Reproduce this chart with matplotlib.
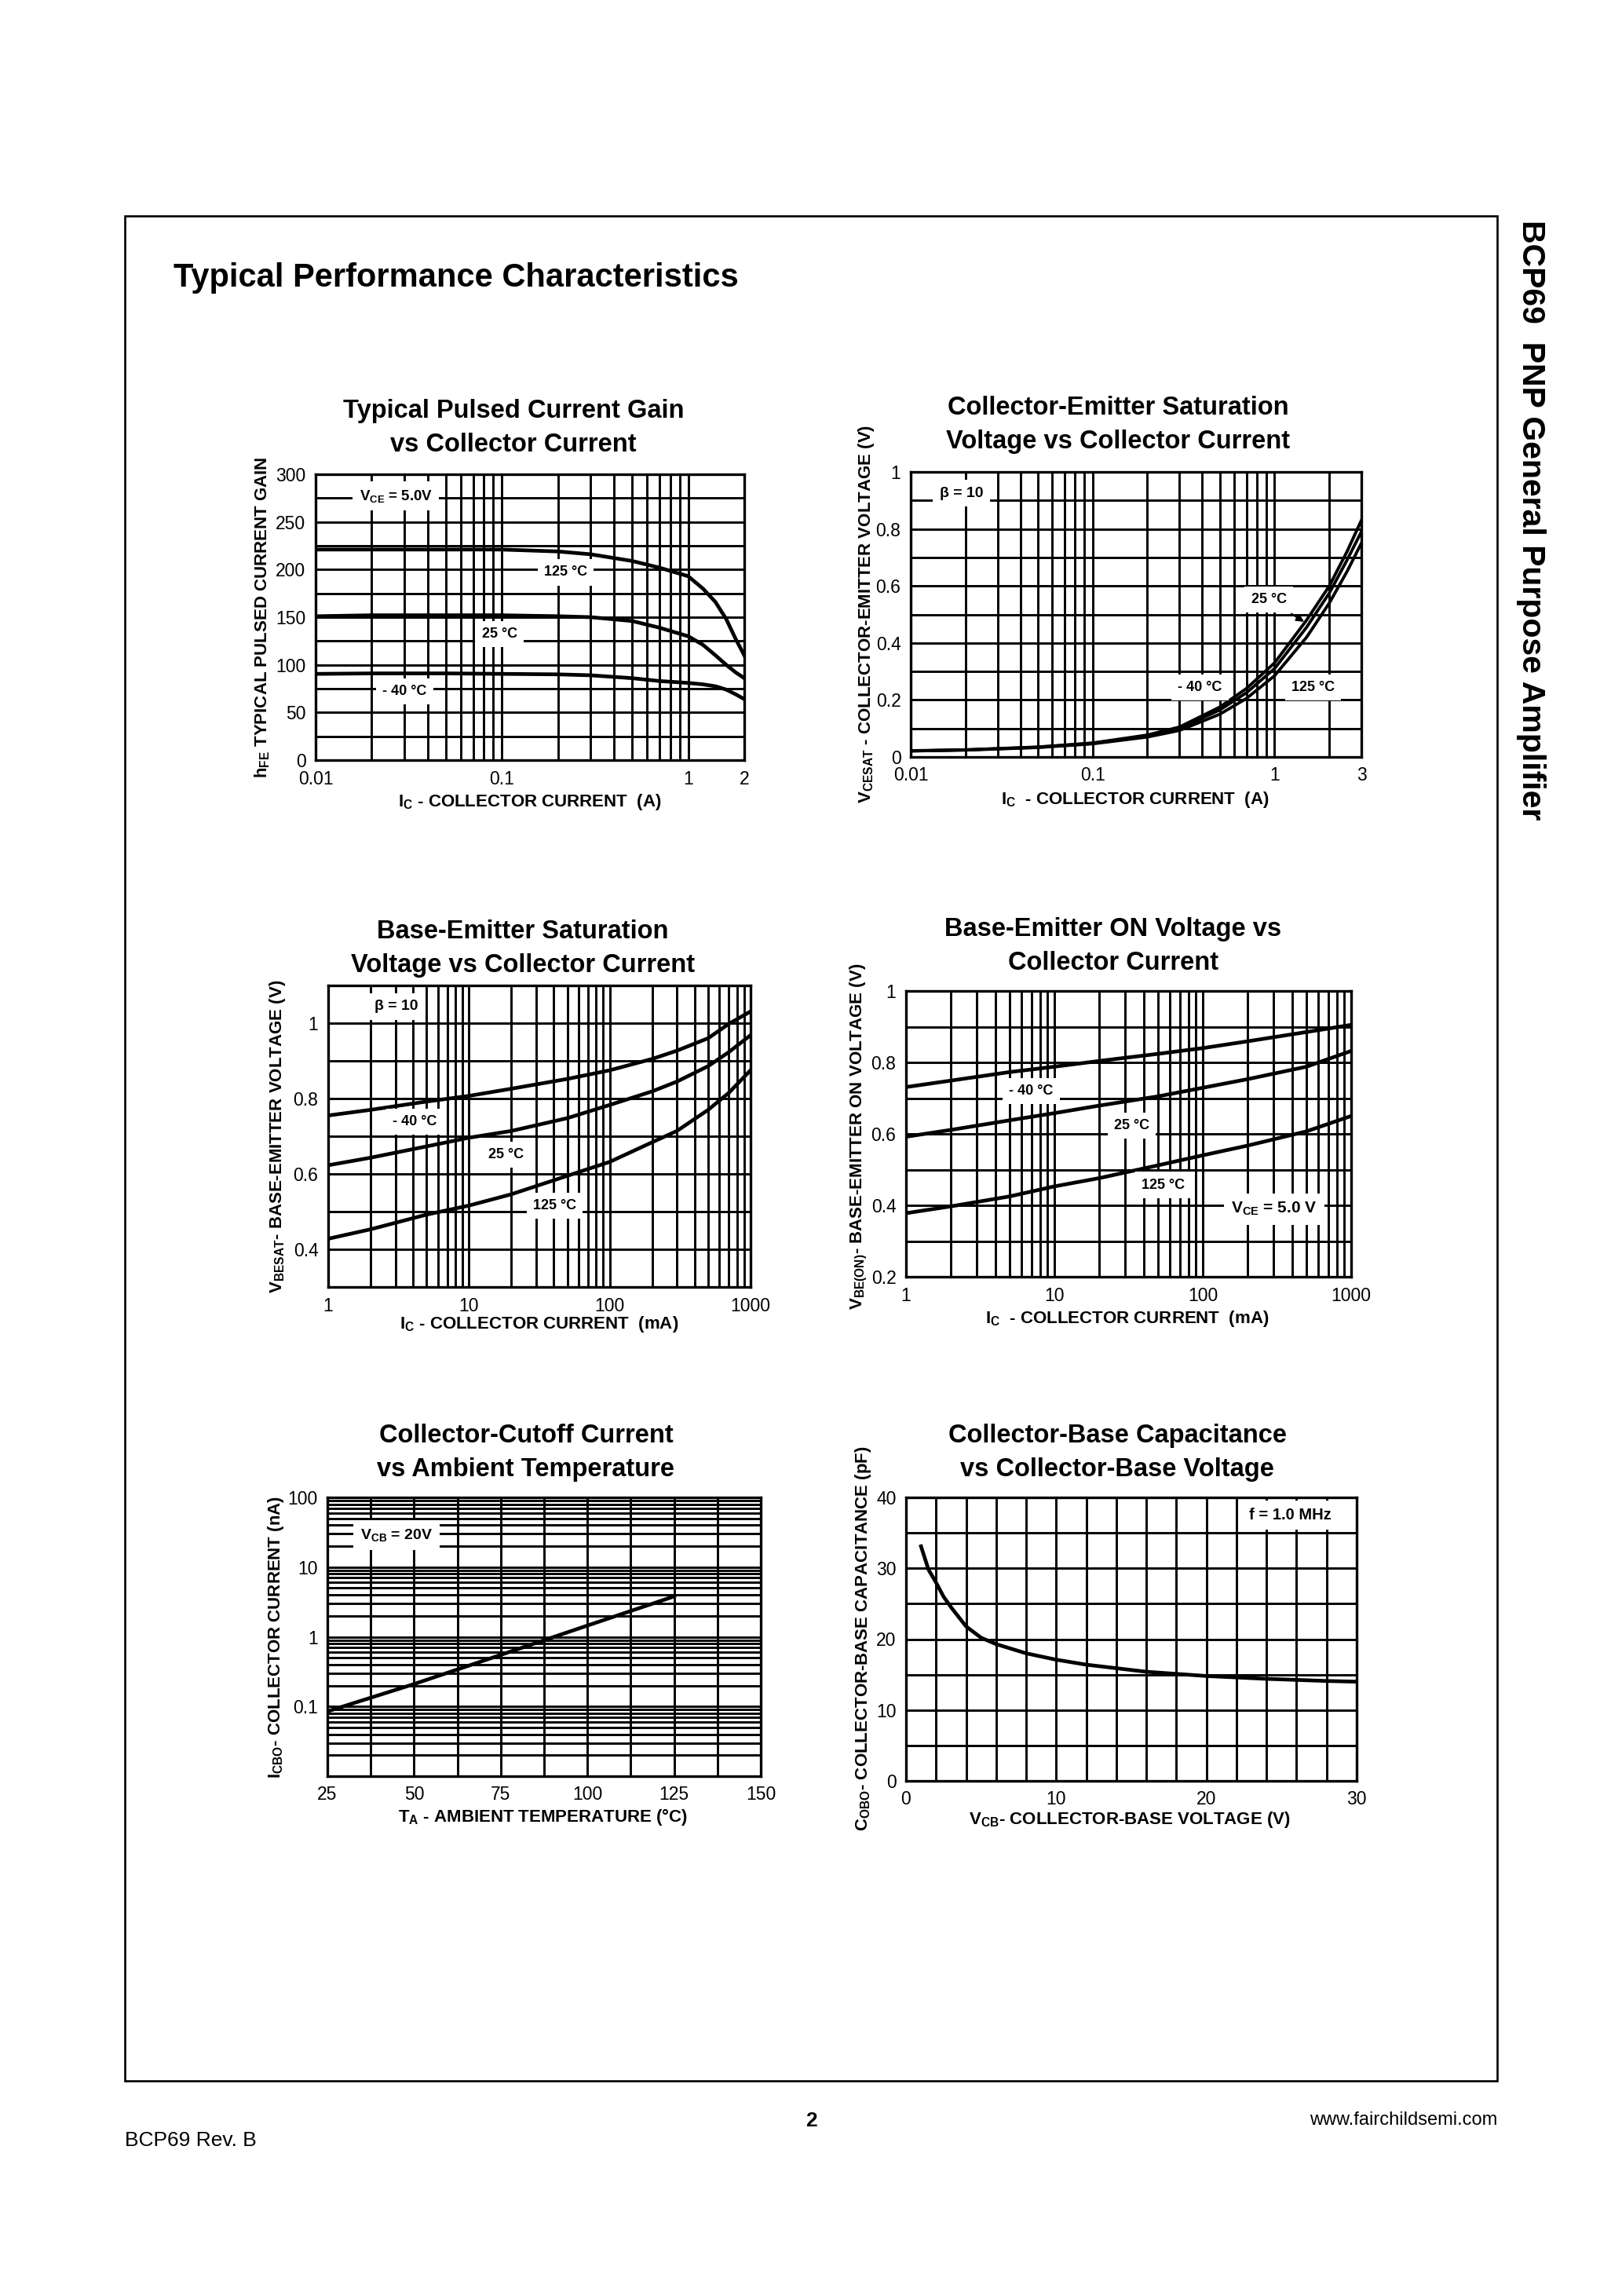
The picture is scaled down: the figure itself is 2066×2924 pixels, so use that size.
import numpy as np
import matplotlib
matplotlib.use("Agg")
import matplotlib.pyplot as plt
from matplotlib.ticker import LogLocator, MultipleLocator, NullFormatter
from matplotlib.patches import Rectangle

plt.rcParams['font.family'] = ['Liberation Sans', 'DejaVu Sans']
plt.rcParams['mathtext.fontset'] = 'custom'
plt.rcParams['mathtext.rm'] = 'Liberation Sans'
plt.rcParams['mathtext.bf'] = 'Liberation Sans:bold'

W, H = 2066, 2924

# --- hFE vs Ic (A) ---
hfe_ic = [0.0102, 0.02, 0.05, 0.1, 0.2, 0.3, 0.5, 0.7, 1.0, 1.2, 1.4, 1.6, 1.8, 2.0]
hfe_125 = [221, 221, 221, 221, 219, 216, 209, 202, 193, 180, 166, 148, 127, 110]
hfe_25 = [151, 152, 152, 152, 151, 150, 146, 139, 130, 121, 110, 100, 92, 86]
hfe_m40 = [90.5, 91, 91, 90.5, 90, 89, 86, 83, 81, 79.5, 77.5, 74, 69, 64]

# --- VCEsat vs Ic (A) ---
vce_ic = [0.01, 0.02, 0.05, 0.1, 0.2, 0.3, 0.5, 0.7, 1.0, 1.5, 2.0, 2.5, 3.0]
vce_a = [0.022, 0.025, 0.035, 0.049, 0.077, 0.105, 0.175, 0.24, 0.33, 0.48, 0.60, 0.72, 0.83]
vce_b = [0.021, 0.025, 0.034, 0.048, 0.074, 0.100, 0.165, 0.225, 0.31, 0.455, 0.575, 0.69, 0.79]
vce_c = [0.021, 0.024, 0.033, 0.046, 0.070, 0.093, 0.150, 0.205, 0.285, 0.42, 0.54, 0.65, 0.75]

# --- VBEsat vs Ic (mA) ---
ma_ic = [1, 2, 5, 10, 20, 50, 100, 200, 300, 500, 700, 1000]
vbesat_m40 = [0.755, 0.77, 0.792, 0.807, 0.826, 0.852, 0.875, 0.905, 0.927, 0.96, 0.998, 1.031]
vbesat_25 = [0.623, 0.643, 0.673, 0.696, 0.714, 0.748, 0.783, 0.819, 0.845, 0.886, 0.923, 0.968]
vbesat_125 = [0.428, 0.453, 0.492, 0.516, 0.546, 0.595, 0.632, 0.684, 0.714, 0.77, 0.815, 0.875]

# --- VBE(on) vs Ic (mA) ---
on_ic = [1, 2, 5, 10, 20, 50, 100, 200, 500, 1000]
vbeon_m40 = [0.731, 0.749, 0.773, 0.788, 0.804, 0.824, 0.84, 0.859, 0.885, 0.905]
vbeon_25 = [0.592, 0.611, 0.638, 0.658, 0.679, 0.705, 0.729, 0.753, 0.788, 0.832]
vbeon_125 = [0.378, 0.397, 0.425, 0.453, 0.476, 0.512, 0.54, 0.567, 0.607, 0.65]

# --- ICBO vs TA ---
icbo_ta = [25, 50, 75, 100, 125]
icbo_na = [0.085, 0.21, 0.55, 1.45, 3.8]

# --- Cobo vs VCB ---
cob_v = [1.0, 1.5, 2, 2.5, 3, 4, 5, 6, 8, 10, 12, 14, 16, 18, 20, 24, 28, 30]
cob_pf = [33.1, 29.8, 28.0, 26.0, 24.5, 21.8, 20.2, 19.3, 18.0, 17.1, 16.4, 15.9, 15.4, 15.1, 14.8, 14.4, 14.1, 14.0]

fig = plt.figure(figsize=(W / 100, H / 100), dpi=100)


def fx(x):
    return x / W


def fy(y):
    return 1 - y / H


def px_axes(l, t, r, b):
    return fig.add_axes([l / W, 1 - b / H, (r - l) / W, (b - t) / H])


def style(ax):
    ax.grid(True, which='both', color='black', lw=2.1)
    ax.set_axisbelow(True)
    for sp in ax.spines.values():
        sp.set_linewidth(2.4)
    ax.tick_params(which='both', length=0, labelsize=16.5, pad=9)
    ax.xaxis.set_minor_formatter(NullFormatter())
    ax.yaxis.set_minor_formatter(NullFormatter())


def logx(ax):
    ax.set_xscale('log')
    ax.xaxis.set_minor_locator(LogLocator(base=10, subs=np.arange(2, 10), numticks=100))


def label(ax, x, y, s, size=13):
    ax.text(x, y, s, ha='center', va='center', fontsize=size, fontweight='bold', zorder=5,
            bbox=dict(boxstyle='square,pad=0.45', fc='white', ec='none'))


def titles(cx, y1, l1, l2):
    fig.text(fx(cx), fy(y1), l1, ha='center', va='baseline', fontsize=23.5, fontweight='bold')
    fig.text(fx(cx), fy(y1 + 43), l2, ha='center', va='baseline', fontsize=23.5, fontweight='bold')


def axis_labels(xl, xlx, xly, yl, ylx, yly):
    fig.text(fx(xlx), fy(xly), xl, ha='center', va='center', fontsize=16, fontweight='bold')
    fig.text(fx(ylx), fy(yly), yl, ha='center', va='center', rotation=90, fontsize=16, fontweight='bold')


LW = 3.4

# chart 1
ax = px_axes(402, 604, 948, 968)
logx(ax)
style(ax)
ax.set_xlim(0.01, 2)
ax.set_ylim(0, 300)
ax.set_xticks([0.01, 0.1, 1, 2], ['0.01', '0.1', '1', '2'])
ax.set_yticks(np.arange(0, 301, 50))
ax.yaxis.set_minor_locator(MultipleLocator(25))
for yv in (hfe_125, hfe_25, hfe_m40):
    ax.plot(hfe_ic, yv, color='black', lw=LW, zorder=3)
label(ax, 0.027, 277, r'$\mathregular{V_{CE}}$ = 5.0V', 13.5)
label(ax, 0.22, 197, '125 °C')
label(ax, 0.097, 132, '25 °C')
label(ax, 0.030, 72, '- 40 °C')
titles(654, 532, 'Typical Pulsed Current Gain', 'vs Collector Current')
axis_labels(r'$\mathregular{I_C}$ - COLLECTOR CURRENT  (A)', 675, 1021,
            r'$\mathregular{h_{FE}}$ TYPICAL PULSED CURRENT GAIN', 334, 786)

# chart 2
ax = px_axes(1160, 601, 1734, 964)
logx(ax)
style(ax)
ax.set_xlim(0.01, 3)
ax.set_ylim(0, 1)
ax.set_xticks([0.01, 0.1, 1, 3], ['0.01', '0.1', '1', '3'])
ax.set_yticks([0, 0.2, 0.4, 0.6, 0.8, 1.0], ['0', '0.2', '0.4', '0.6', '0.8', '1'])
ax.yaxis.set_minor_locator(MultipleLocator(0.1))
for yv in (vce_a, vce_b, vce_c):
    ax.plot(vce_ic, yv, color='black', lw=2.8, zorder=3)
label(ax, 0.019, 0.925, 'β = 10', 14)
ax.annotate('25 °C', xy=(1.49, 0.47), xytext=(0.93, 0.552), ha='center', va='center',
            fontsize=13, fontweight='bold', zorder=5,
            bbox=dict(boxstyle='square,pad=0.45', fc='white', ec='none'),
            arrowprops=dict(arrowstyle='-|>', color='black', lw=1.6, mutation_scale=14))
label(ax, 0.39, 0.243, '- 40 °C')
label(ax, 1.63, 0.243, '125 °C')
titles(1424, 528, 'Collector-Emitter Saturation', 'Voltage vs Collector Current')
axis_labels(r'$\mathregular{I_C}$  - COLLECTOR CURRENT  (A)', 1446, 1018,
            r'$\mathregular{V_{CESAT}}$ - COLLECTOR-EMITTER VOLTAGE (V)', 1103, 782)

# chart 3
ax = px_axes(418, 1255, 956, 1639)
logx(ax)
style(ax)
ax.set_xlim(1, 1000)
ax.set_ylim(0.3, 1.1)
ax.set_xticks([1, 10, 100, 1000], ['1', '10', '100', '1000'])
ax.set_yticks([0.4, 0.6, 0.8, 1.0], ['0.4', '0.6', '0.8', '1'])
ax.yaxis.set_minor_locator(MultipleLocator(0.1))
for yv in (vbesat_m40, vbesat_25, vbesat_125):
    ax.plot(ma_ic, yv, color='black', lw=LW, zorder=3)
label(ax, 3.04, 1.044, 'β = 10', 14)
label(ax, 4.12, 0.739, '- 40 °C')
label(ax, 18.3, 0.651, '25 °C')
label(ax, 40.7, 0.515, '125 °C')
titles(666, 1195, 'Base-Emitter Saturation', 'Voltage vs Collector Current')
axis_labels(r'$\mathregular{I_C}$ - COLLECTOR CURRENT  (mA)', 687, 1687,
            r'$\mathregular{V_{BESAT}}$- BASE-EMITTER VOLTAGE (V)', 354, 1447)

# chart 4
ax = px_axes(1154, 1262, 1721, 1626)
logx(ax)
style(ax)
ax.set_xlim(1, 1000)
ax.set_ylim(0.2, 1.0)
ax.set_xticks([1, 10, 100, 1000], ['1', '10', '100', '1000'])
ax.set_yticks([0.2, 0.4, 0.6, 0.8, 1.0], ['0.2', '0.4', '0.6', '0.8', '1'])
ax.yaxis.set_minor_locator(MultipleLocator(0.1))
for yv in (vbeon_m40, vbeon_25, vbeon_125):
    ax.plot(on_ic, yv, color='black', lw=LW, zorder=3)
label(ax, 6.98, 0.719, '- 40 °C')
label(ax, 33.1, 0.623, '25 °C')
label(ax, 54.2, 0.457, '125 °C')
label(ax, 302, 0.39, r'$\mathregular{V_{CE}}$ = 5.0 V', 15)
titles(1418, 1192, 'Base-Emitter ON Voltage vs', 'Collector Current')
axis_labels(r'$\mathregular{I_C}$  - COLLECTOR CURRENT  (mA)', 1436, 1679,
            r'$\mathregular{V_{BE(ON)}}$- BASE-EMITTER ON VOLTAGE (V)', 1094, 1447)

# chart 5
ax = px_axes(417, 1907, 969, 2262)
style(ax)
ax.set_yscale('log')
ax.yaxis.set_minor_locator(LogLocator(base=10, subs=np.arange(2, 10), numticks=100))
ax.yaxis.set_minor_formatter(NullFormatter())
ax.set_xlim(25, 150)
ax.set_ylim(0.01, 100)
ax.set_xticks(np.arange(25, 151, 25))
ax.xaxis.set_minor_locator(MultipleLocator(12.5))
ax.set_yticks([0.1, 1, 10, 100], ['0.1', '1', '10', '100'])
ax.plot(icbo_ta, icbo_na, color='black', lw=LW, zorder=3)
label(ax, 44.9, 28.7, r'$\mathregular{V_{CB}}$ = 20V', 14)
titles(670, 1837, 'Collector-Cutoff Current', 'vs Ambient Temperature')
axis_labels(r'$\mathregular{T_A}$ - AMBIENT TEMPERATURE (°C)', 692, 2314,
            r'$\mathregular{I_{CBO}}$- COLLECTOR CURRENT (nA)', 352, 2085)

# chart 6
ax = px_axes(1154, 1907, 1728, 2268)
style(ax)
ax.set_xlim(0, 30)
ax.set_ylim(0, 40)
ax.set_xticks([0, 10, 20, 30])
ax.set_yticks([0, 10, 20, 30, 40])
ax.xaxis.set_minor_locator(MultipleLocator(2))
ax.yaxis.set_minor_locator(MultipleLocator(5))
ax.plot(cob_v, cob_pf, color='black', lw=LW, zorder=3)
label(ax, 25.6, 37.5, 'f = 1.0 MHz', 14.5)
titles(1423, 1837, 'Collector-Base Capacitance', 'vs Collector-Base Voltage')
axis_labels(r'$\mathregular{V_{CB}}$- COLLECTOR-BASE VOLTAGE (V)', 1439, 2318,
            r'$\mathregular{C_{OBO}}$- COLLECTOR-BASE CAPACITANCE (pF)', 1100, 2087)

# page frame and page texts
fig.patches.append(Rectangle((fx(158.7), fy(2649.5)), fx(1907.3 - 158.7), (2649.5 - 274.7) / H,
                             transform=fig.transFigure, fill=False, ec='black', lw=1.9))
fig.text(fx(221), fy(365), 'Typical Performance Characteristics', ha='left', va='baseline',
         fontsize=30, fontweight='bold')
fig.text(fx(1950), fy(280), 'BCP69  PNP General Purpose Amplifier', ha='center', va='top',
         rotation=270, fontsize=29.5, fontweight='bold')
fig.text(fx(1033), fy(2708), '2', ha='center', va='baseline', fontsize=19, fontweight='bold')
fig.text(fx(1907), fy(2706), 'www.fairchildsemi.com', ha='right', va='baseline', fontsize=17)
fig.text(fx(159), fy(2733), 'BCP69 Rev. B', ha='left', va='baseline', fontsize=19)

fig.savefig('out.png', dpi=100, facecolor='white')
